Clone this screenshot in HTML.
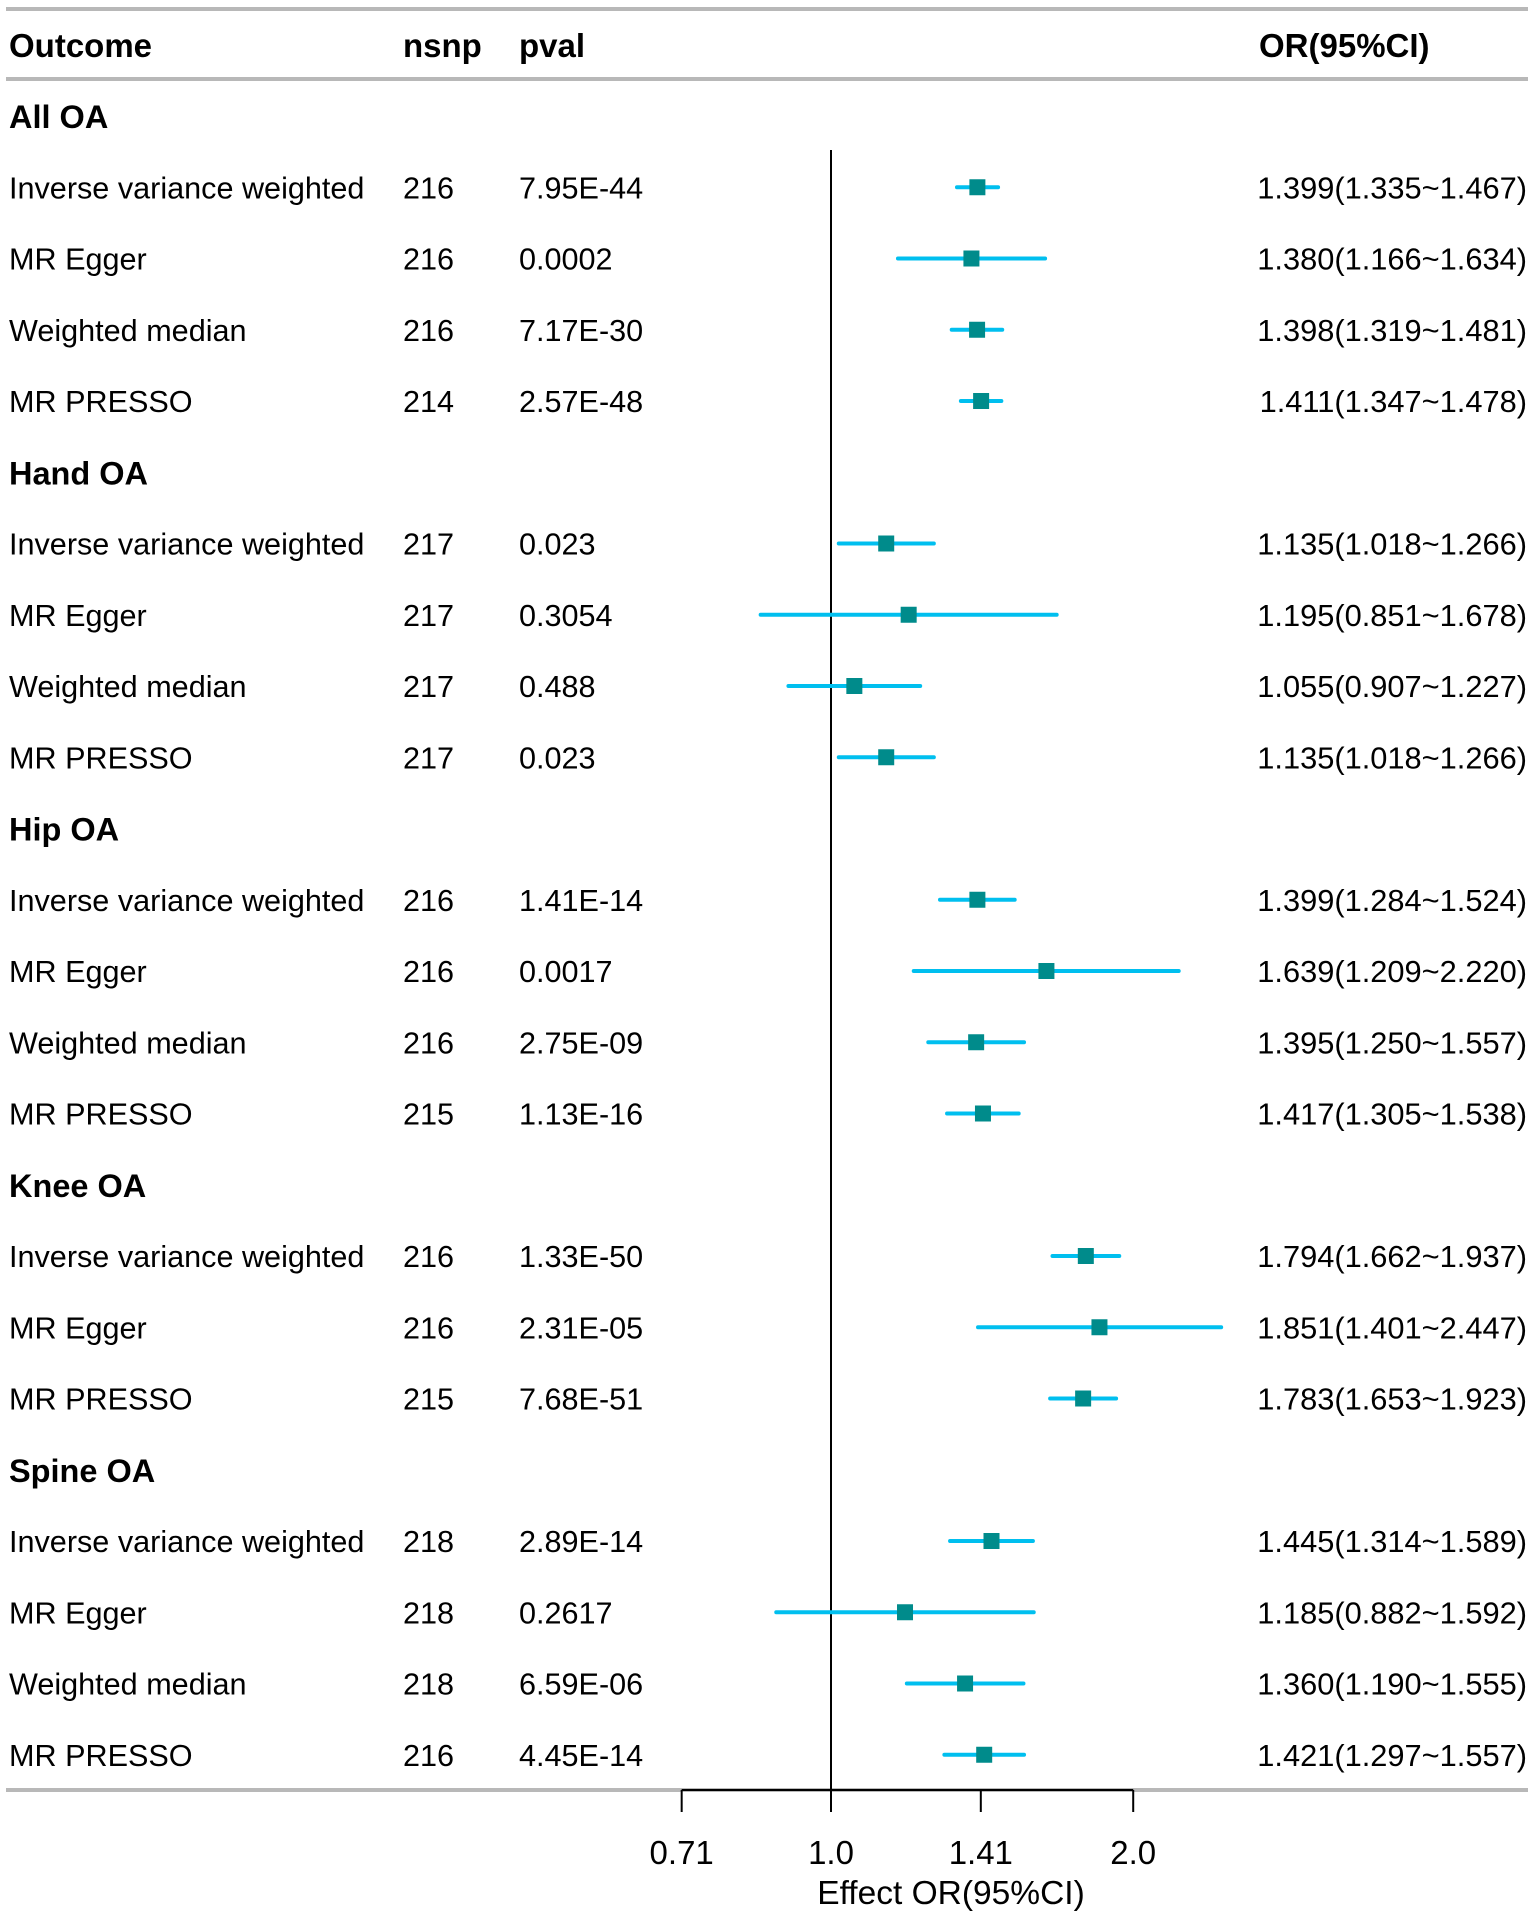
<!DOCTYPE html>
<html><head><meta charset="utf-8"><style>
html,body{margin:0;padding:0;background:#fff;}
svg{display:block;font-family:"Liberation Sans",Arial,sans-serif;}
</style></head><body>
<svg id="chart" width="1535" height="1915" viewBox="0 0 1535 1915">
<line x1="6" y1="9" x2="1528" y2="9" stroke="#b8b8b8" stroke-width="4"/>
<line x1="6" y1="79" x2="1528" y2="79" stroke="#b8b8b8" stroke-width="4"/>
<line x1="6" y1="1790" x2="1528" y2="1790" stroke="#b8b8b8" stroke-width="4"/>
<g font-size="33" font-weight="bold" fill="#000">
<text x="9" y="57">Outcome</text>
<text x="403" y="57">nsnp</text>
<text x="519" y="57">pval</text>
<text x="1259" y="57">OR(95%CI)</text>
</g>
<g id="rows"></g>
<g id="marks"></g>
<g id="axis"></g>
</svg>
<script>
const labels=["All OA","Inverse variance weighted","MR Egger","Weighted median","MR PRESSO","Hand OA","Inverse variance weighted","MR Egger","Weighted median","MR PRESSO","Hip OA","Inverse variance weighted","MR Egger","Weighted median","MR PRESSO","Knee OA","Inverse variance weighted","MR Egger","MR PRESSO","Spine OA","Inverse variance weighted","MR Egger","Weighted median","MR PRESSO"];
const nsnp=[null,216,216,216,214,null,217,217,217,217,null,216,216,216,215,null,216,216,215,null,218,218,218,216];
const pval=[null,"7.95E-44","0.0002","7.17E-30","2.57E-48",null,"0.023","0.3054","0.488","0.023",null,"1.41E-14","0.0017","2.75E-09","1.13E-16",null,"1.33E-50","2.31E-05","7.68E-51",null,"2.89E-14","0.2617","6.59E-06","4.45E-14"];
const orv=[null,1.399,1.380,1.398,1.411,null,1.135,1.195,1.055,1.135,null,1.399,1.639,1.395,1.417,null,1.794,1.851,1.783,null,1.445,1.185,1.360,1.421];
const lo=[null,1.335,1.166,1.319,1.347,null,1.018,0.851,0.907,1.018,null,1.284,1.209,1.250,1.305,null,1.662,1.401,1.653,null,1.314,0.882,1.190,1.297];
const hi=[null,1.467,1.634,1.481,1.478,null,1.266,1.678,1.227,1.266,null,1.524,2.220,1.557,1.538,null,1.937,2.447,1.923,null,1.589,1.592,1.555,1.557];
const ticks=[0.71,1.0,1.41,2.0];
const tickLabels=["0.71","1.0","1.41","2.0"];

const NS="http://www.w3.org/2000/svg";
const xScale=v=>831+Math.log(v)*436;
const yRow=i=>116+i*71.25;
function mk(tag,attrs,parent,txt){const e=document.createElementNS(NS,tag);for(const k in attrs)e.setAttribute(k,attrs[k]);if(txt!==undefined)e.textContent=txt;parent.appendChild(e);return e;}
const rows=document.getElementById('rows'),marks=document.getElementById('marks'),axis=document.getElementById('axis');
const fmt=v=>v.toFixed(3);
labels.forEach((lab,i)=>{
  const y=yRow(i)+11;
  const isG=nsnp[i]===null;
  const t=mk('text',{x:9,y:y+(isG?1:0),'font-size':isG?32.5:30.6,'font-weight':isG?'bold':'normal'},rows,lab);
  
  
  if(!isG){
    const a=mk('text',{x:403,y:y,'font-size':30.6},rows,String(nsnp[i]));
    
    
    const b=mk('text',{x:519,y:y,'font-size':30.6},rows,pval[i]);
    
    
    const c=mk('text',{x:1527,y:y,'font-size':30.8,'text-anchor':'end'},rows,fmt(orv[i])+"("+fmt(lo[i])+"~"+fmt(hi[i])+")");
    
    
  }
});
const ref=mk('line',{x1:xScale(1),y1:150,x2:xScale(1),y2:1790,stroke:'#000','stroke-width':2},marks);


labels.forEach((lab,i)=>{
  if(orv[i]===null)return;
  const y=yRow(i);
  const l=mk('line',{x1:xScale(lo[i]),y1:y,x2:xScale(hi[i]),y2:y,stroke:'#00BFEF','stroke-width':4,'stroke-linecap':'round'},marks);
  
  
  const s=mk('rect',{x:xScale(orv[i])-8,y:y-8,width:16,height:16,fill:'#008B8B'},marks);
  
  
});
const ax=mk('line',{x1:xScale(ticks[0]),y1:1790,x2:xScale(ticks[ticks.length-1]),y2:1790,stroke:'#000','stroke-width':2},axis);


ticks.forEach((v,i)=>{
  const tk=mk('line',{x1:xScale(v),y1:1790,x2:xScale(v),y2:1812,stroke:'#000','stroke-width':2},axis);
  
  
  const tl=mk('text',{x:xScale(v),y:1864,'font-size':33,'text-anchor':'middle'},axis,tickLabels[i]);
  
  
});
const at=mk('text',{x:951,y:1904,'font-size':33.5,'text-anchor':'middle'},axis,"Effect OR(95%CI)");


</script>
</body></html>
